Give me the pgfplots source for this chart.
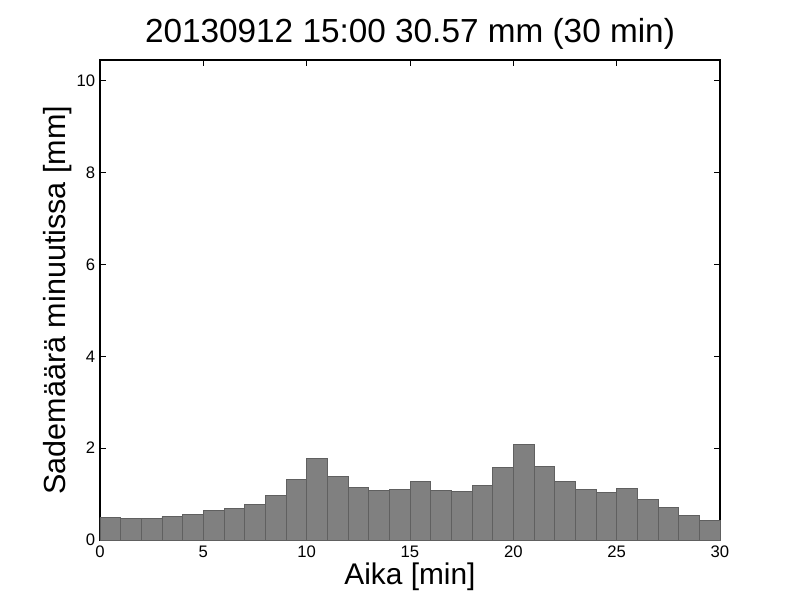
\documentclass[border=0pt]{standalone}
\usepackage{fontspec}
\setmainfont{Liberation Sans}
\usepackage{pgfplots}
\pgfplotsset{compat=1.18}
\definecolor{barfill}{HTML}{808080}
\definecolor{baredge}{HTML}{606060}
\begin{document}
\begin{tikzpicture}
\useasboundingbox (0,0) rectangle (576pt,432pt);
\begin{axis}[
  at={(72pt,43.2pt)}, anchor=south west,
  scale only axis, width=446.4pt, height=345.6pt,
  xmin=0, xmax=30, ymin=0, ymax=10.45,
  xtick={0,5,...,30}, ytick={0,2,...,10},
  tick align=inside, tick pos=both, major tick length=4pt,
  tick style={black, line width=0.6pt},
  axis line style={line width=1pt},
  /pgf/number format/assume math mode=true,
  ticklabel style={font=\fontsize{12}{14}\selectfont},
  xticklabel style={yshift=-1pt},
  title={20130912 15:00 30.57 mm (30 min)},
  title style={font=\fontsize{24}{28}\selectfont, at={(axis description cs:0.5,1.0375)}, anchor=center},
  xlabel={Aika [min]},
  xlabel style={font=\fontsize{21.5}{25}\selectfont, at={(axis description cs:0.5,-0.076)}, anchor=center},
  ylabel={Sademäärä minuutissa [mm]},
  ylabel style={font=\fontsize{22}{26}\selectfont, at={(axis description cs:-0.069,0.5)}, anchor=center, rotate=0},
  clip=false,
]
\addplot[ybar interval, fill=barfill, draw=baredge, line width=0.6pt] coordinates {
(0,0.486) (1,0.466) (2,0.466) (3,0.511) (4,0.556) (5,0.645) (6,0.684) (7,0.774) (8,0.967) (9,1.319)
(10,1.776) (11,1.379) (12,1.141) (13,1.081) (14,1.101) (15,1.270) (16,1.081) (17,1.052) (18,1.185) (19,1.577)
(20,2.085) (21,1.597) (22,1.270) (23,1.101) (24,1.032) (25,1.121) (26,0.883) (27,0.704) (28,0.536) (29,0.427)
(30,0.427)
};
\end{axis}
\end{tikzpicture}
\end{document}
